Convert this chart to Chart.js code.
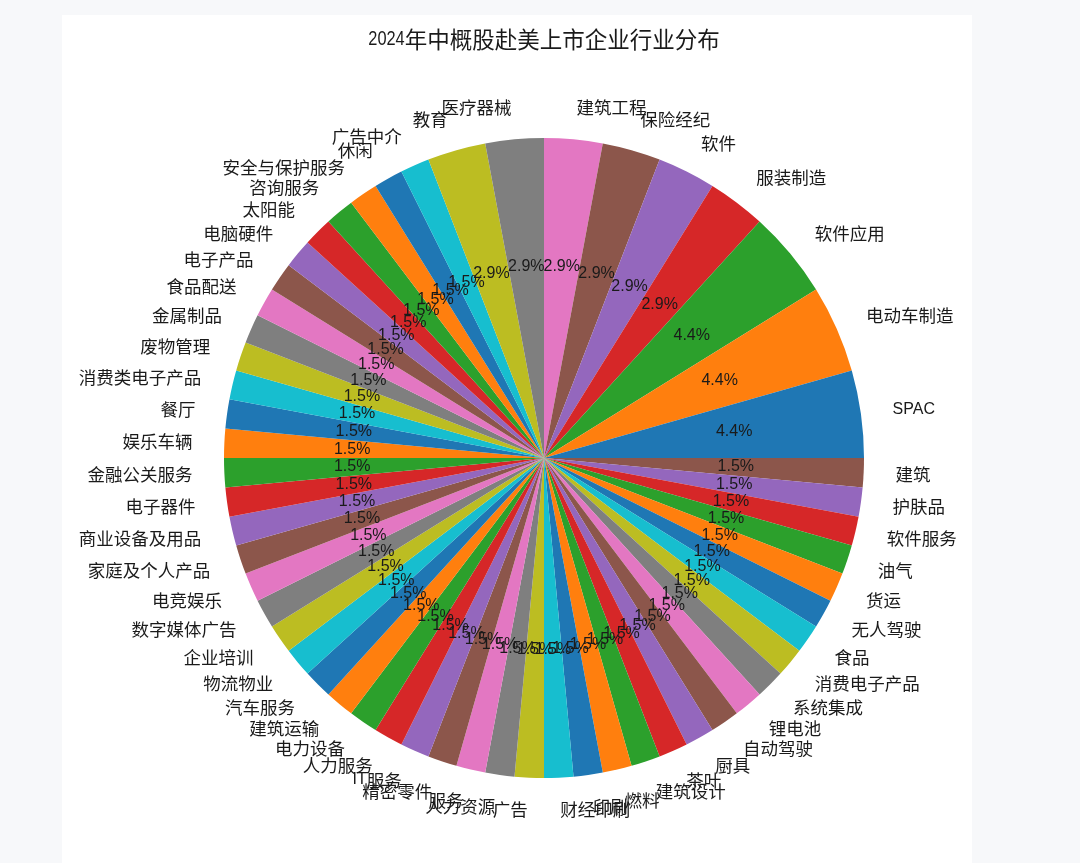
<!DOCTYPE html>
<html>
<head>
<meta charset="utf-8">
<script src="https://cdn.jsdelivr.net/npm/chart.js@4.4.1/dist/chart.umd.min.js"></script>
<style>
  html, body { margin: 0; padding: 0; background: #f7f8fa; }
  #panel { position: absolute; left: 62px; top: 15px; width: 910px; height: 848px; background: #fff; }
</style>
</head>
<body>
<div id="panel"><canvas id="pieChart" width="910" height="848"></canvas></div>
<script>
// Data (urutan seperti matplotlib, mulai jam 3 berlawanan jarum jam)
const industries = [
  "SPAC", "电动车制造", "软件应用", "服装制造", "软件", "保险经纪", "建筑工程", "医疗器械", "教育",
  "广告中介", "休闲", "安全与保护服务", "咨询服务", "太阳能", "电脑硬件", "电子产品", "食品配送",
  "金属制品", "废物管理", "消费类电子产品", "餐厅", "娱乐车辆", "金融公关服务", "电子器件",
  "商业设备及用品", "家庭及个人产品", "电竞娱乐", "数字媒体广告", "企业培训", "物流物业", "汽车服务",
  "建筑运输", "电力设备", "人力服务", "IT服务", "精密零件", "服务", "人力资源", "广告", "财经印刷",
  "印刷", "燃料", "建筑设计", "茶叶", "厨具", "自动驾驶", "锂电池", "系统集成", "消费电子产品",
  "食品", "无人驾驶", "货运", "油气", "软件服务", "护肤品", "建筑"
];
const companyCounts = [
  3, 3, 3, 2, 2, 2, 2, 2, 2,
  1, 1, 1, 1, 1, 1, 1, 1,
  1, 1, 1, 1, 1, 1, 1,
  1, 1, 1, 1, 1, 1, 1,
  1, 1, 1, 1, 1, 1, 1, 1, 1,
  1, 1, 1, 1, 1, 1, 1, 1, 1,
  1, 1, 1, 1, 1, 1, 1
];
const chartTitle = "2024年中概股赴美上市企业行业分布";

// warna default matplotlib (tab10)
const tab10 = ["#1f77b4", "#ff7f0e", "#2ca02c", "#d62728", "#9467bd",
               "#8c564b", "#e377c2", "#7f7f7f", "#bcbd22", "#17becf"];
const sliceColors = industries.map((_, i) => tab10[i % 10]);

// Chart.js menggambar searah jarum jam, jadi urutannya dibalik
const labelsCw = industries.slice().reverse();
const valuesCw = companyCounts.slice().reverse();
const colorsCw = sliceColors.slice().reverse();

const total = companyCounts.reduce((a, b) => a + b, 0);
const LATIN = '"Liberation Sans", sans-serif';
const CJK = '"Noto Sans CJK SC", sans-serif';

// tulis teks campuran: huruf latin & huruf CJK ukurannya beda
function drawMixed(ctx, text, x, y, align, latinPx, cjkPx, latinScale = 1) {
  const runs = text.match(/[\u0000-\u02ff]+|[^\u0000-\u02ff]+/g) || [];
  const parts = runs.map(t => {
    const isLatin = /^[\u0000-\u02ff]/.test(t);
    const font = isLatin ? latinPx + "px " + LATIN : cjkPx + "px " + CJK;
    const sx = isLatin ? latinScale : 1;
    ctx.font = font;
    return { t, font, sx, w: ctx.measureText(t).width * sx };
  });
  const width = parts.reduce((a, p) => a + p.w, 0);
  let cx = align === "left" ? x : align === "right" ? x - width : x - width / 2;
  ctx.textAlign = "left";
  ctx.textBaseline = "middle";
  parts.forEach(p => {
    ctx.font = p.font;
    ctx.save();
    ctx.translate(cx, y);
    ctx.scale(p.sx, 1);
    ctx.fillText(p.t, 0, 0);
    ctx.restore();
    cx += p.w;
  });
}

// plugin buat label luar + persen di dalam + judul
const pieText = {
  id: "pieText",
  afterDatasetsDraw(chart) {
    const ctx = chart.ctx;
    const meta = chart.getDatasetMeta(0);
    ctx.save();
    ctx.fillStyle = "#1a1a1a";
    meta.data.forEach((arc, i) => {
      const mid = (arc.startAngle + arc.endAngle) / 2;
      const r = arc.outerRadius;
      const c = Math.cos(mid), s = Math.sin(mid);

      // nama industri di 1.1 r
      drawMixed(ctx, labelsCw[i], arc.x + 1.1 * r * c, arc.y + 1.1 * r * s,
                c > 0 ? "left" : "right", 16, 17.5);

      // persen di 0.6 r
      const pct = (valuesCw[i] / total * 100).toFixed(1) + "%";
      drawMixed(ctx, pct, arc.x + 0.6 * r * c, arc.y + 0.6 * r * s, "center", 16, 17.5);
    });

    // judul, angka "2024" agak sempit seperti aslinya
    drawMixed(ctx, chartTitle, meta.data[0].x, 24, "center", 21, 22.5, 0.78);
    ctx.restore();
  }
};

const ctx = document.getElementById("pieChart").getContext("2d");
new Chart(ctx, {
  type: "pie",
  data: {
    labels: labelsCw,
    datasets: [{
      data: valuesCw,
      backgroundColor: colorsCw,
      borderWidth: 0
    }]
  },
  options: {
    responsive: false,
    animation: false,
    rotation: 90,
    layout: { padding: { left: 162, right: 108, top: 123, bottom: 85 } },
    plugins: {
      legend: { display: false },
      title: { display: false },
      tooltip: { enabled: false }
    }
  },
  plugins: [pieText]
});
</script>
</body>
</html>
